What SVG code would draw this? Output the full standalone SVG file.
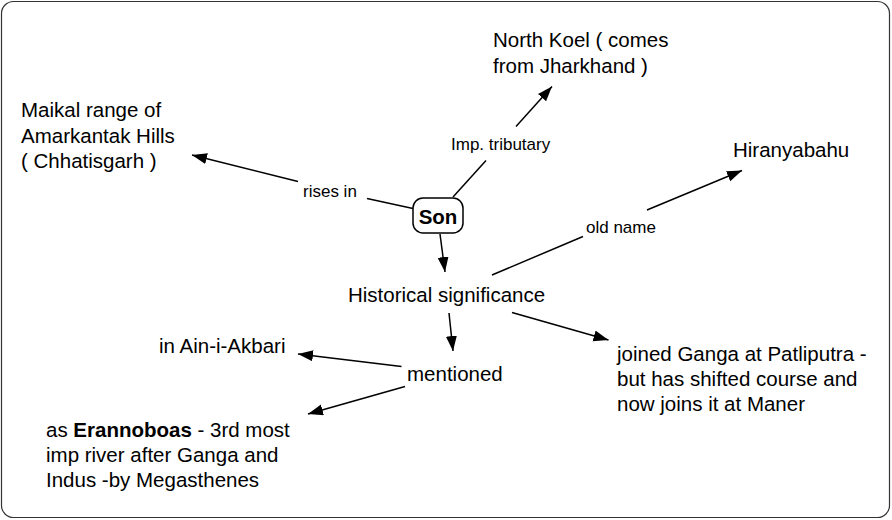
<svg xmlns="http://www.w3.org/2000/svg" width="892" height="520" viewBox="0 0 892 520">
<style>
.node{font-family:"Liberation Sans",Arial,sans-serif;font-size:20.5px;fill:#000}
.lbl{font-family:"Liberation Sans",Arial,sans-serif;font-size:17px;fill:#000}
.edge{stroke:#000;stroke-width:1.5;fill:none}
</style>
<defs>
<marker id="ah" markerUnits="userSpaceOnUse" markerWidth="16" markerHeight="12" refX="15" refY="5.5" orient="auto">
<path d="M0,0 L15,5.5 L0,11 z" fill="#000"/>
</marker>
</defs>
<rect x="1.5" y="1.5" width="888" height="516" rx="12" fill="#fff" stroke="#333" stroke-width="1.2"/>
<g id="connectors">
<line class="edge" x1="413" y1="208.5" x2="367" y2="198.5"/>
<line class="edge" x1="298" y1="181.5" x2="192" y2="155" marker-end="url(#ah)"/>
<line class="edge" x1="453" y1="197" x2="486" y2="160.5"/>
<line class="edge" x1="516" y1="126.5" x2="552" y2="86.5" marker-end="url(#ah)"/>
<line class="edge" x1="440" y1="234" x2="445" y2="272" marker-end="url(#ah)"/>
<line class="edge" x1="492" y1="275" x2="583" y2="236.5"/>
<line class="edge" x1="647" y1="210" x2="742" y2="170.5" marker-end="url(#ah)"/>
<line class="edge" x1="449" y1="313" x2="453" y2="351" marker-end="url(#ah)"/>
<line class="edge" x1="512" y1="312.5" x2="608.5" y2="340" marker-end="url(#ah)"/>
<line class="edge" x1="401.5" y1="366.5" x2="298" y2="354" marker-end="url(#ah)"/>
<line class="edge" x1="405" y1="386.5" x2="308" y2="414" marker-end="url(#ah)"/>
<text class="lbl" x="303" y="197">rises in</text>
<text class="lbl" x="451" y="150">Imp. tributary</text>
<text class="lbl" x="586" y="233">old name</text>
</g>
<g id="son">
<rect x="413" y="198" width="50" height="35" rx="10" fill="#fff" stroke="#000" stroke-width="1.5"/>
<text class="node" x="438" y="224" text-anchor="middle" font-weight="bold" font-size="19.5">Son</text>
</g>
<g id="maikal">
<text class="node" x="21" y="117">Maikal range of</text>
<text class="node" x="21" y="143">Amarkantak Hills</text>
<text class="node" x="21" y="168">( Chhatisgarh )</text>
</g>
<g id="northkoel">
<text class="node" x="493" y="47">North Koel ( comes</text>
<text class="node" x="493" y="73">from Jharkhand )</text>
</g>
<g id="hiranyabahu">
<text class="node" x="733" y="157">Hiranyabahu</text>
</g>
<g id="historical">
<text class="node" x="348" y="302">Historical significance</text>
</g>
<g id="mentioned">
<text class="node" x="407" y="381">mentioned</text>
</g>
<g id="ainakbari">
<text class="node" x="159" y="353">in Ain-i-Akbari</text>
</g>
<g id="erannoboas">
<text class="node" x="46" y="437">as <tspan font-weight="bold">Erannoboas</tspan> - 3rd most</text>
<text class="node" x="46" y="462">imp river after Ganga and</text>
<text class="node" x="46" y="487">Indus -by Megasthenes</text>
</g>
<g id="patliputra">
<text class="node" x="617" y="361">joined Ganga at Patliputra -</text>
<text class="node" x="617" y="386">but has shifted course and</text>
<text class="node" x="617" y="411">now joins it at Maner</text>
</g>
</svg>
